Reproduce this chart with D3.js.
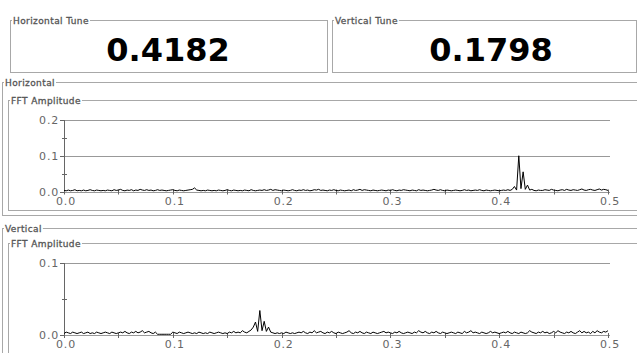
<!DOCTYPE html>
<html>
<head>
<meta charset="utf-8">
<script src="https://cdn.jsdelivr.net/npm/d3@7"></script>
<style>
  body { margin: 0; background: #fff; }
  text { font-family: "DejaVu Sans", sans-serif; }
</style>
</head>
<body>
<svg id="chart" width="637" height="353"></svg>
<script>
// tune read-outs
var tuneTitles = ["Horizontal Tune", "Vertical Tune"];
var tuneValues = [0.4182, 0.1798];

// FFT amplitude spectra, one value per frequency bin (bin width 0.002), in units of 1e-3
var freqStep = 0.002;
var hAmpMilli = [
  3,2,4,2,3,5,2,3,2,4,
  2,3,5,3,2,4,3,2,3,2,
  4,3,2,5,3,4,6,3,2,4,
  3,5,2,4,3,6,4,3,5,3,
  4,2,3,5,3,4,3,2,3,4,
  5,3,2,4,3,2,3,4,5,6,
  10,4,3,2,3,2,4,3,2,3,
  2,4,3,2,3,5,3,2,4,3,
  2,3,2,4,3,2,5,3,2,3,
  4,3,5,3,4,6,3,5,4,3,
  2,4,3,2,3,5,3,2,4,3,
  5,3,4,2,3,5,4,6,3,4,
  3,2,4,3,5,3,2,4,3,2,
  3,4,2,5,3,4,6,3,5,4,
  3,2,4,3,2,3,4,3,2,4,
  3,5,3,2,4,3,5,4,3,2,
  4,3,2,5,3,4,3,2,3,4,
  6,4,3,5,3,2,4,3,2,3,
  4,3,2,3,5,3,4,2,3,4,
  3,5,3,2,4,3,2,3,4,3,
  2,3,4,3,5,3,6,14,4,100,
  8,55,6,18,4,6,3,2,4,3,
  3,5,4,3,6,4,3,2,4,5,
  3,6,4,3,5,4,3,5,7,4,
  3,5,6,4,3,5,7,4,6,5,
  3
];
var vAmpMilli = [
  2,4,3,2,4,3,2,3,4,2,
  3,4,2,3,2,4,3,2,3,4,
  3,2,4,3,2,3,4,3,5,3,
  2,4,3,5,3,4,6,3,4,5,
  3,2,4,1,1,1,1,1,1,1,
  4,3,2,4,3,2,3,4,3,2,
  3,2,4,3,2,3,2,4,3,2,
  3,4,3,2,3,2,4,3,5,3,
  4,3,6,4,3,5,7,11,18,5,
  34,6,19,5,11,4,3,2,3,2,
  3,2,4,3,2,3,2,3,4,3,
  5,3,2,4,3,6,3,4,5,3,
  2,4,3,5,3,2,4,3,2,3,
  4,6,3,2,4,3,5,3,2,4,
  3,2,4,3,2,3,4,5,3,4,
  3,2,4,3,5,3,2,3,4,3,
  2,4,3,6,4,3,5,3,2,4,
  3,5,3,2,4,3,2,3,4,3,
  2,4,3,2,5,3,4,6,3,4,
  3,2,4,3,2,3,5,3,4,3,
  2,3,4,3,5,3,2,4,3,2,
  4,3,2,3,6,4,3,2,4,3,
  5,3,4,2,3,5,3,6,4,3,
  2,4,3,5,3,2,4,6,3,5,
  3,4,2,5,3,6,4,3,5,4,
  6
];
var hAmp = hAmpMilli.map(function (v) { return v / 1000; });
var vAmp = vAmpMilli.map(function (v) { return v / 1000; });

var xTicks = [0, 0.1, 0.2, 0.3, 0.4, 0.5];
var xMinorTicks = [0.05, 0.15, 0.25, 0.35, 0.45];
var hYTicks = [0, 0.1, 0.2];
var hYMinorTicks = [0.05, 0.15];
var vYTicks = [0, 0.1];
var vYMinorTicks = [0.05];

var svg = d3.select("#chart");
var borderColor = "#a8a8a8";
var titleColor = "#555";

function titledBox (x, y, w, h, title) {
  svg.append("rect")
      .attr("x", x + 0.5).attr("y", y + 0.5)
      .attr("width", w).attr("height", h)
      .attr("fill", "none").attr("stroke", borderColor);
  var bg = svg.append("rect").attr("fill", "#fff");
  var t = svg.append("text")
      .attr("x", x + 3).attr("y", y + 4)
      .attr("font-size", 9)
      .attr("letter-spacing", 0.4)
      .attr("fill", titleColor)
      .attr("stroke", titleColor).attr("stroke-width", 0.3)
      .text(title);
  var bb = t.node().getBBox();
  bg.attr("x", bb.x - 1).attr("y", y - 2).attr("width", bb.width + 2).attr("height", 5);
}

// tune boxes
titledBox(10, 20, 317, 52, tuneTitles[0]);
titledBox(332, 20, 304, 52, tuneTitles[1]);
svg.selectAll(".tune")
  .data(tuneValues)
  .enter().append("text")
    .attr("class", "tune")
    .attr("x", function (d, i) { return i == 0 ? 168 : 491; })
    .attr("y", 61)
    .attr("text-anchor", "middle")
    .attr("font-family", "'DejaVu Serif', serif")
    .attr("font-size", 32).attr("font-weight", "bold")
    .attr("fill", "#000")
    .text(function (d) { return d3.format(".4f")(d); });

// plane boxes
titledBox(2, 82, 640, 133, "Horizontal");
titledBox(8, 100, 640, 110, "FFT Amplitude");
titledBox(2, 228, 640, 140, "Vertical");
titledBox(8, 243, 640, 140, "FFT Amplitude");

var x = d3.scaleLinear().domain([0, 0.5]).range([64, 608]);

function spectrum (amp, yMax, top, bottom, yTicks, yMinor) {
  var y = d3.scaleLinear().domain([0, yMax]).range([bottom, top]);
  var g = svg.append("g");

  // grid lines at major y ticks
  g.selectAll(".grid")
    .data(yTicks)
    .enter().append("line")
      .attr("x1", x(0)).attr("x2", x(0.5) + 2)
      .attr("y1", function (d) { return Math.round(y(d)) + 0.5; })
      .attr("y2", function (d) { return Math.round(y(d)) + 0.5; })
      .attr("stroke", "#999");

  // y axis
  g.append("line")
      .attr("x1", x(0) + 0.5).attr("x2", x(0) + 0.5)
      .attr("y1", Math.round(y(yMax))).attr("y2", Math.round(y(0)) + 1)
      .attr("stroke", "#666");
  g.selectAll(".ytick")
    .data(yTicks)
    .enter().append("line")
      .attr("x1", x(0) - 4).attr("x2", x(0))
      .attr("y1", function (d) { return Math.round(y(d)) + 0.5; })
      .attr("y2", function (d) { return Math.round(y(d)) + 0.5; })
      .attr("stroke", "#666");
  g.selectAll(".yminor")
    .data(yMinor)
    .enter().append("line")
      .attr("x1", x(0) - 2).attr("x2", x(0) + 3)
      .attr("y1", function (d) { return Math.round(y(d)) + 0.5; })
      .attr("y2", function (d) { return Math.round(y(d)) + 0.5; })
      .attr("stroke", "#666");
  g.selectAll(".ylabel")
    .data(yTicks)
    .enter().append("text")
      .attr("x", x(0) - 5)
      .attr("y", function (d) { return y(d) + 4; })
      .attr("text-anchor", "end")
      .attr("font-size", 11).attr("letter-spacing", 0.8)
      .attr("fill", "#666")
      .text(d3.format(".1f"));

  // x axis ticks and labels
  g.selectAll(".xtick")
    .data(xTicks.concat(xMinorTicks))
    .enter().append("line")
      .attr("x1", function (d) { return Math.round(x(d)) + 0.5; })
      .attr("x2", function (d) { return Math.round(x(d)) + 0.5; })
      .attr("y1", y(0) - 2).attr("y2", y(0) + 3)
      .attr("stroke", "#666");
  g.selectAll(".xlabel")
    .data(xTicks)
    .enter().append("text")
      .attr("x", function (d) { return x(d) + 2; })
      .attr("y", y(0) + 13)
      .attr("text-anchor", "middle")
      .attr("font-size", 11).attr("letter-spacing", 0.8)
      .attr("fill", "#666")
      .text(d3.format(".1f"));

  var line = d3.line()
      .x(function (d, i) { return x(i * freqStep); })
      .y(function (d) { return y(d); });
  g.append("path")
      .datum(amp)
      .attr("d", line)
      .attr("fill", "none")
      .attr("stroke", "#000")
      .attr("stroke-width", 1);
}

spectrum(hAmp, 0.2, 120, 191.5, hYTicks, hYMinorTicks);
spectrum(vAmp, 0.1, 263, 335, vYTicks, vYMinorTicks);
</script>
</body>
</html>
